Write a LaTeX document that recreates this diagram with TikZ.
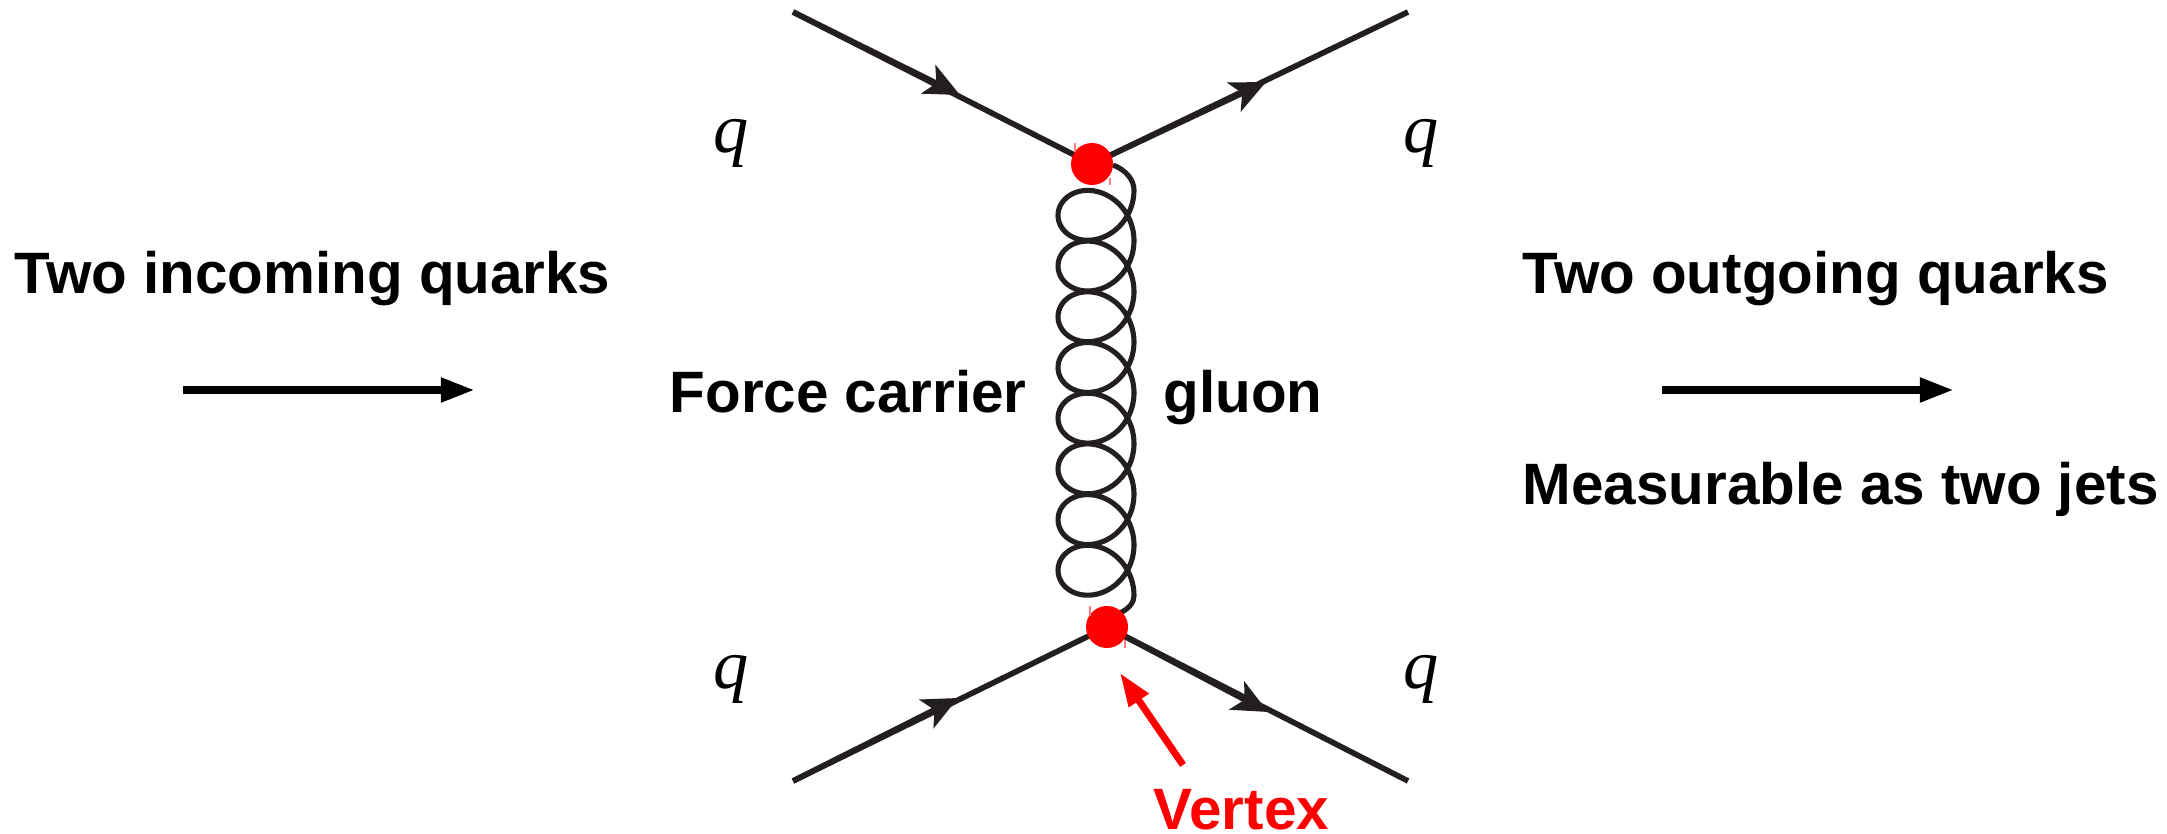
\documentclass[tikz,border=0pt]{standalone}
\usepackage{fontspec}
\setmainfont{Liberation Sans}
\newfontfamily\qfont{Liberation Serif}
\usetikzlibrary{arrows.meta}
\definecolor{ink}{HTML}{231F20}
\definecolor{vred}{HTML}{FF0000}
\tikzset{
  quark/.style={draw=ink,line width=1.6pt},
  quarktip/.style={draw=ink,line width=1.6pt,-{Stealth[length=10pt,width=9pt,inset=2.5pt]}},
  gluonline/.style={draw=ink,line width=1.45pt,line join=round},
  vertexdot/.style={circle,fill=vred,inner sep=0pt,minimum size=0.42cm},
  tick/.style={draw=vred!50,line width=0.35pt},
  label/.style={font=\bfseries\fontsize{16.6pt}{20pt}\selectfont,anchor=base west,inner sep=0pt},
  qlabel/.style={font=\qfont\itshape\fontsize{20pt}{22pt}\selectfont,inner sep=0pt,anchor=base},
  bigarrow/.style={draw=black,line width=2.3pt,-{Triangle[length=9.7pt,width=6.5pt]}},
  redarrow/.style={draw=vred,line width=2pt,-{Triangle[length=9.5pt,width=6.4pt]}}
}
\begin{document}
\begin{tikzpicture}[x=0.01cm,y=-0.01cm]
\useasboundingbox (0,0) rectangle (2167,834);
% gluon
\coordinate (gstart) at (1113,165);
\coordinate (gend) at (1120,613);
\draw[gluonline] (gstart) .. controls (1126,170) and (1134,180) .. (1134,190)
  -- plot[domain=0:2880,samples=500] ({1096+38*cos(\x)},{190+0.140833*\x+36.75*sin(\x)})
  .. controls (1134,602) and (1130,608) .. (gend);
% quark lines
\coordinate (vt) at (1092,164);
\coordinate (vb) at (1107,627);
\coordinate (tl) at (793,12);
\coordinate (tlm) at (960,95);
\coordinate (tr) at (1408,12);
\coordinate (trm) at (1266,82);
\coordinate (bl) at (793,781);
\coordinate (blm) at (958,698);
\coordinate (br) at (1408,781);
\coordinate (brm) at (1268,712);
\draw[quark] (tl) -- (vt);
\draw[quarktip] (tl) -- (tlm);
\draw[quark] (vt) -- (tr);
\draw[quarktip] (vt) -- (trm);
\draw[quark] (bl) -- (vb);
\draw[quarktip] (bl) -- (blm);
\draw[quark] (vb) -- (br);
\draw[quarktip] (vb) -- (brm);
% vertices
\node[vertexdot] (vtop) at (vt) {};
\node[vertexdot] (vbot) at (vb) {};
% tiny marks
\draw[tick] (1075,143) -- (1075,152);
\draw[tick] (1110,178) -- (1110,185);
\draw[tick] (1090,606) -- (1090,616);
\draw[tick] (1125,640) -- (1125,648);
% q labels
\node[qlabel] (q1) at (731,153) {q};
\node[qlabel] (q2) at (1421,153) {q};
\node[qlabel] (q3) at (731,689) {q};
\node[qlabel] (q4) at (1421,689) {q};
% text
\node[label] (t1) at (14,294) {Two incoming quarks};
\node[label] (t2) at (669,413) {Force carrier};
\node[label] (t3) at (1163,413) {gluon};
\node[label] (t4) at (1522,294) {Two outgoing quarks};
\node[label] (t5) at (1522,505) {Measurable as two jets};
\node[label,text=vred] (t6) at (1153,829) {Vertex};
% arrows
\coordinate (a1s) at (183,390);
\coordinate (a1e) at (475,390);
\coordinate (a2s) at (1662,390);
\coordinate (a2e) at (1954,390);
\draw[bigarrow] (a1s) -- (a1e);
\draw[bigarrow] (a2s) -- (a2e);
\coordinate (rs) at (1183,765);
\coordinate (re) at (1120,673);
\draw[redarrow] (rs) -- (re);
\end{tikzpicture}
\end{document}
